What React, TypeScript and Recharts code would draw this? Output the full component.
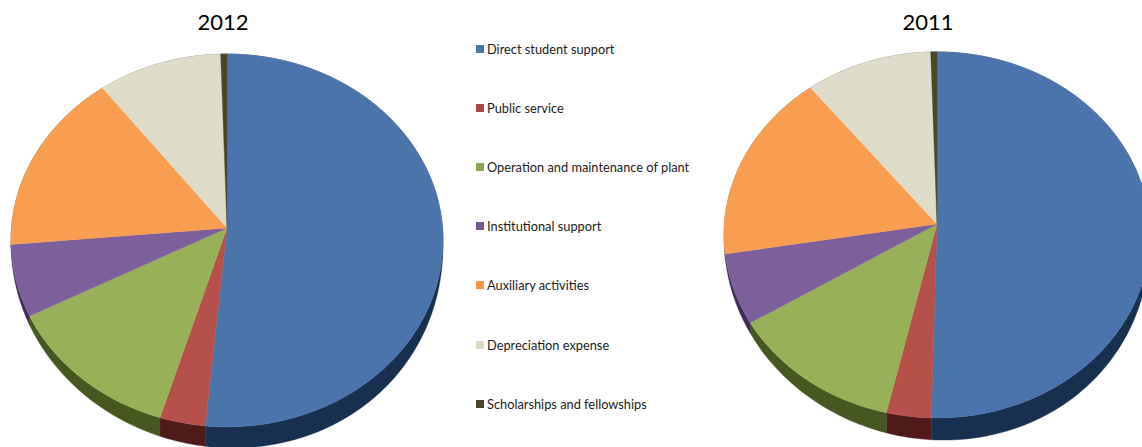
import React from "react";
import { PieChart, Pie, Legend } from "recharts";

const categories = [
  "Direct student support",
  "Public service",
  "Operation and maintenance of plant",
  "Institutional support",
  "Auxiliary activities",
  "Depreciation expense",
  "Scholarships and fellowships",
];
const values2012 = [51.5, 3.2, 12.7, 6.2, 16.0, 9.9, 0.5];
const values2011 = [50.4, 3.2, 12.6, 6.2, 16.9, 10.2, 0.5];
const topColors = ["#4A75AC", "#B5504B", "#98B057", "#7E5F9D", "#F99E50", "#DFDDCA", "#4A4628"];
const wallColors = ["#17304F", "#4F1A18", "#465820", "#3C2C58", "#8A4F1E", "#77745F", "#26230F"];
const swatchColors = ["#4A76AB", "#AA4845", "#8BA650", "#75598F", "#F79646", "#DDD9C3", "#4A452A"];

const rowsFor = (values: number[], colors: string[]) =>
  categories.map((name, i) => ({ name, value: values[i], fill: colors[i] }));

type Tilt = { squash: number; lean: number; depth: number };

// Perspective projection of a point on the unit disc, so the near edge of the pie looks larger.
function project(cx: number, cy: number, r: number, t: Tilt, deg: number) {
  const a = (deg * Math.PI) / 180;
  const u = Math.cos(a);
  const v = -Math.sin(a);
  const w = 1 - t.lean * v;
  // Wall height grows toward the front and stays a little thinner on the left side.
  const drop = t.depth * Math.pow(Math.max(0, v), 0.7) * (1 + 0.3 * u);
  return { x: cx + (r * u) / w, y: cy + (r * t.squash * v) / w, drop };
}

function rimPoints(cx: number, cy: number, r: number, t: Tilt, from: number, to: number) {
  const steps = Math.max(2, Math.ceil(Math.abs(to - from) / 1.5));
  return Array.from({ length: steps + 1 }, (_, i) =>
    project(cx, cy, r, t, from + ((to - from) * i) / steps),
  );
}

const topFace = (t: Tilt) => (props: any) => {
  const { cx, cy, outerRadius, startAngle, endAngle, fill } = props;
  const rim = rimPoints(cx, cy, outerRadius, t, startAngle, endAngle);
  const d = `M${cx},${cy}` + rim.map((p) => `L${p.x},${p.y}`).join("") + "Z";
  return <path d={d} fill={fill} stroke={fill} strokeWidth={0.4} />;
};

// The side wall is a band hanging below the rim; the top face covers its upper edge.
const sideWall = (t: Tilt) => (props: any) => {
  const { cx, cy, outerRadius, startAngle, endAngle, fill } = props;
  const rim = rimPoints(cx, cy, outerRadius, t, startAngle, endAngle);
  const lower = [...rim].reverse().map((p) => `L${p.x},${p.y + p.drop}`).join("");
  const d = rim.map((p, i) => `${i ? "L" : "M"}${p.x},${p.y}`).join("") + lower + "Z";
  return <path d={d} fill={fill} stroke={fill} strokeWidth={0.4} />;
};

const tilt2012: Tilt = { squash: 0.861, lean: 0.067, depth: 21 };
const tilt2011: Tilt = { squash: 0.858, lean: 0.06, depth: 22 };

const LegendRows = () => (
  <div style={{ position: "relative", width: 240, height: 380 }}>
    {categories.map((name, i) => (
      <div key={name} style={{ position: "absolute", left: 0, top: i * 59.1, height: 16, display: "flex", alignItems: "center" }}>
        <span style={{ width: 8, height: 8, background: swatchColors[i], display: "inline-block", marginRight: 3 }} />
        <span style={{ fontFamily: "Lato, 'Open Sans', sans-serif", fontSize: 12.8, color: "#1c1c1c", whiteSpace: "nowrap" }}>{name}</span>
      </div>
    ))}
  </div>
);

const titleStyle: React.CSSProperties = {
  position: "absolute",
  top: 8,
  fontFamily: "Lato, 'Open Sans', sans-serif",
  fontSize: 22,
  lineHeight: "28px",
  color: "#000",
  width: 100,
  textAlign: "center",
};

const pieBase = {
  dataKey: "value",
  nameKey: "name",
  startAngle: 90,
  endAngle: -270,
  innerRadius: 0,
  paddingAngle: 0,
  isAnimationActive: false,
  labelLine: false,
  label: false,
} as const;

export default function App() {
  return (
    <div style={{ position: "absolute", left: 0, top: 0, width: 1142, height: 447, overflow: "hidden", background: "#fff" }}>
      <PieChart width={1142} height={447} margin={{ top: 0, right: 0, bottom: 0, left: 0 }}>
        <Pie {...pieBase} data={rowsFor(values2012, wallColors)} cx={227} cy={228} outerRadius={215.5} shape={sideWall(tilt2012)} legendType="none" />
        <Pie {...pieBase} data={rowsFor(values2012, topColors)} cx={227} cy={228} outerRadius={215.5} shape={topFace(tilt2012)} />
        <Pie {...pieBase} data={rowsFor(values2011, wallColors)} cx={937} cy={224} outerRadius={212.5} shape={sideWall(tilt2011)} legendType="none" />
        <Pie {...pieBase} data={rowsFor(values2011, topColors)} cx={937} cy={224} outerRadius={212.5} shape={topFace(tilt2011)} legendType="none" />
        <Legend
          layout="vertical"
          align="center"
          verticalAlign="middle"
          content={() => <LegendRows />}
          wrapperStyle={{ position: "absolute", left: 476, top: 41, width: 240, height: 380, margin: 0 }}
        />
      </PieChart>
      <div style={{ ...titleStyle, left: 173 }}>2012</div>
      <div style={{ ...titleStyle, left: 878 }}>2011</div>
    </div>
  );
}
